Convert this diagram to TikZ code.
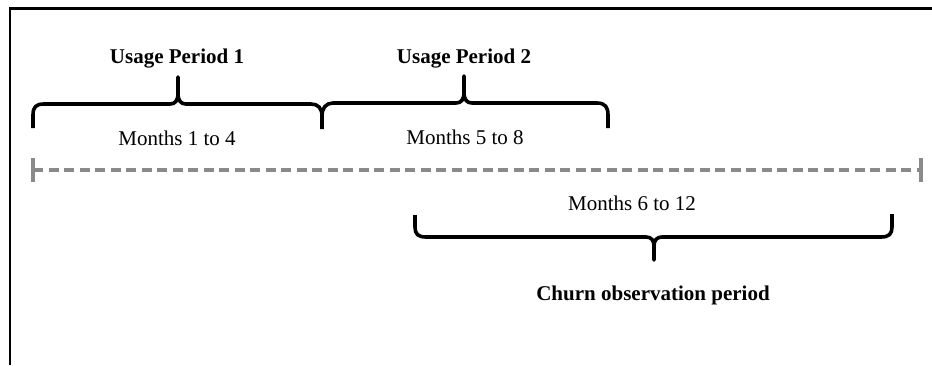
\documentclass[tikz,border=0pt]{standalone}
\usepackage{fontspec}
\setmainfont{Liberation Serif}
\begin{document}
\begin{tikzpicture}[x=1pt,y=-1pt,
  lbl/.style={font=\fontsize{21}{24}\selectfont, inner sep=0pt, anchor=base},
  ttl/.style={lbl, font=\fontsize{21}{24}\selectfont\bfseries},
  bracepath/.style={line width=3.6pt, line join=round, line cap=butt},
  timeline/.style={line width=4pt, draw={rgb,255:red,138;green,138;blue,138}, dash pattern=on 10pt off 5.5pt},
  tick/.style={line width=3.5pt, draw={rgb,255:red,138;green,138;blue,138}},
  frame/.style={line width=2.5pt}]
\useasboundingbox (0,0) rectangle (932,365);
% frame
\draw[frame] (10,365) -- (10,8.5) -- (932,8.5);
% titles and labels
\node[ttl] (up1) at (177,63) {Usage Period 1};
\node[ttl] (up2) at (464,63) {Usage Period 2};
\node[lbl] (m14) at (177,145) {Months 1 to 4};
\node[lbl] (m58) at (465,144) {Months 5 to 8};
\node[lbl] (m612) at (632,210) {Months 6 to 12};
\node[ttl] (churn) at (653,300) {Churn observation period};
% brace 1
\draw[bracepath] (33,128) -- (33,115) .. controls (33,107) and (36,104) .. (44,104)
  -- (170,104) .. controls (175,104) and (178,101) .. (178,93) -- (178,77)
  -- (178,93) .. controls (178,101) and (181,104) .. (186,104)
  -- (311,104) .. controls (318,104) and (322,108) .. (322,116) -- (322,129);
% brace 2
\draw[bracepath] (322,116) .. controls (322,108) and (326,103) .. (333,103)
  -- (456,103) .. controls (461,103) and (464,100) .. (464,92) -- (464,76)
  -- (464,92) .. controls (464,100) and (467,103) .. (472,103)
  -- (597,103) .. controls (605,103) and (608,107) .. (608,115) -- (608,128);
% brace 3 (downward)
\draw[bracepath] (415,215) -- (415,227) .. controls (415,234) and (418,237) .. (426,237)
  -- (646,237) .. controls (651,237) and (654,240) .. (654,246) -- (654,260)
  -- (654,246) .. controls (654,240) and (657,237) .. (662,237)
  -- (881,237) .. controls (889,237) and (892,234) .. (892,227) -- (892,214);
% timeline
\coordinate (tl) at (33,170);
\coordinate (tr) at (921,170);
\draw[timeline] (tl) -- (tr);
\draw[tick] (33,158) -- (33,182);
\draw[tick] (921,158) -- (921,182);
\end{tikzpicture}
\end{document}
